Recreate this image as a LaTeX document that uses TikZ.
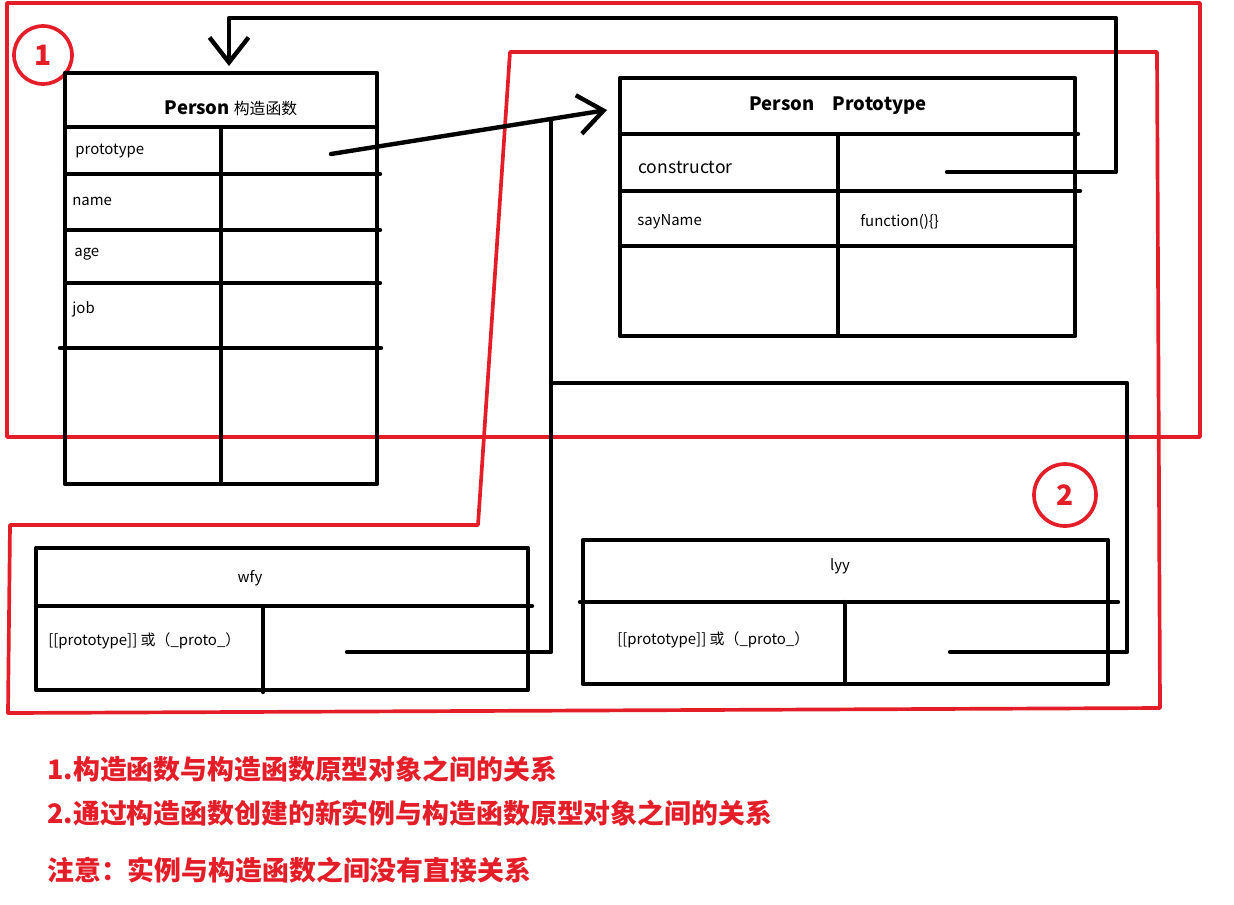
\documentclass[tikz,border=0pt]{standalone}
\usepackage{fontspec}
\setmainfont{Noto Sans CJK SC}
\usetikzlibrary{arrows.meta}
\definecolor{mark}{RGB}{228,30,40}
\tikzset{
  frame/.style={line width=2.5pt, line cap=round, line join=round},
  hand/.style={draw=mark, line width=2.1pt, line join=round},
  cell/.style={font=\fontsize{8.5}{10}\selectfont, anchor=west, inner sep=0pt},
  head/.style={font=\bfseries\fontsize{10.5}{12}\selectfont, inner sep=0pt},
  badge/.style={circle, draw=mark, line width=2.1pt, minimum size=1.16cm, inner sep=0pt,
    text=mark, font=\bfseries\fontsize{16}{18}\selectfont},
  note/.style={text=mark, font=\bfseries\fontsize{15.3}{18}\selectfont, anchor=west, inner sep=0pt},
  barb/.style={-{Straight Barb[length=0.5cm,width=0.78cm]}}
}
\begin{document}
\begin{tikzpicture}[x=0.02cm,y=-0.02cm]
\useasboundingbox (0,0) rectangle (1234,904);

% red frames
\draw[hand] (7,3) rectangle (1200,437);
\draw[hand] (510,52) -- (1157,52) -- (1160,708) -- (8,713) -- (10,525) -- (478,525) -- cycle;
\node[badge] (one) at (43,55) {1};
\node[badge, minimum size=1.24cm] (two) at (1065,495) {2};

% Person constructor
\draw[frame] (65,73) rectangle (377,484);
\draw[frame] (65,127) -- (377,127);
\foreach \y in {174,230,283}
  \draw[frame] (65,\y) -- (380,\y);
\draw[frame] (60,348) -- (381,348);
\draw[frame] (221,127) -- (221,484);
\node[head] (ctorhead) at (231,108) {Person {\mdseries\fontsize{9}{10}\selectfont 构造函数}};
\node[cell] (proto) at (75,151) {prototype};
\node[cell] (name) at (72,201) {name};
\node[cell] (age) at (74,254) {age};
\node[cell] (job) at (72,309) {job};

% Person prototype
\draw[frame] (620,78) rectangle (1075,336);
\draw[frame] (620,134) -- (1078,134);
\draw[frame] (620,191) -- (1080,191);
\draw[frame] (620,246) -- (1075,246);
\draw[frame] (838,134) -- (838,336);
\node[head] (prothead) at (838,106) {Person\quad Prototype};
\node[cell, font=\fontsize{10}{12}\selectfont] (ctor) at (638,167) {constructor};
\node[cell] (say) at (637,222) {sayName};
\node[cell] (fn) at (860,222) {function()\{\}};

% instances
\draw[frame] (36,548) rectangle (528,690);
\draw[frame] (36,606) -- (532,606);
\draw[frame] (263,606) -- (263,692);
\node[cell, anchor=center] (wfy) at (250,578) {wfy};
\node[cell] (wfyproto) at (48,641) {[[prototype]] 或（\_proto\_）};

\draw[frame] (583,540) rectangle (1108,684);
\draw[frame] (580,602) -- (1118,602);
\draw[frame] (845,602) -- (845,684);
\node[cell, anchor=center] (lyy) at (840,566) {lyy};
\node[cell] (lyyproto) at (617,640) {[[prototype]] 或（\_proto\_）};

% pointers
\coordinate (protoptr) at (331,154);
\coordinate (prototip) at (607,110);
\coordinate (ctorptr) at (947,172);
\coordinate (ctortip) at (229,66);
\coordinate (wfyptr) at (347,652);
\coordinate (wfyend) at (551,120);
\coordinate (lyyptr) at (950,652);
\coordinate (lyyend) at (551,383);

\draw[frame, barb] (protoptr) -- (prototip);
\draw[frame, barb] (ctorptr) -- (1116,172) -- (1116,18) -- (229,18) -- (ctortip);
\draw[frame] (wfyptr) -- (551,652) -- (wfyend);
\draw[frame] (lyyptr) -- (1127,652) -- (1127,383) -- (lyyend);

% notes
\node[note] (n1) at (47,769) {1.构造函数与构造函数原型对象之间的关系};
\node[note] (n2) at (47,813) {2.通过构造函数创建的新实例与构造函数原型对象之间的关系};
\node[note] (n3) at (47,870) {注意：实例与构造函数之间没有直接关系};
\end{tikzpicture}
\end{document}
